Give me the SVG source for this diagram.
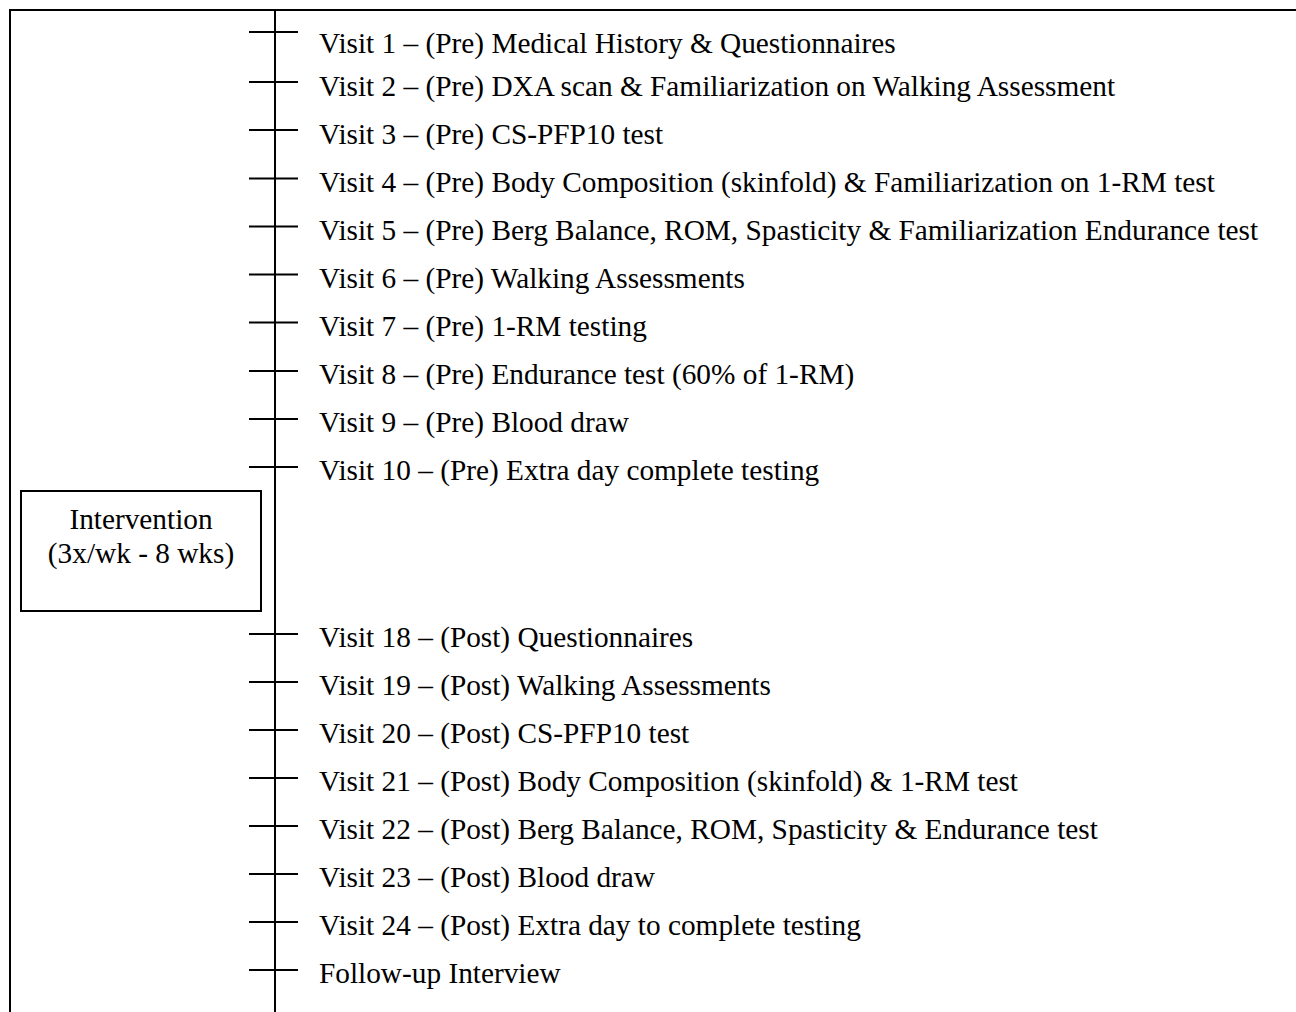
<svg xmlns="http://www.w3.org/2000/svg" width="1296" height="1012" viewBox="0 0 1296 1012">
<style>
.ln{stroke:#000;stroke-width:2;fill:none}
.t{font-family:"Liberation Serif","Times New Roman",serif;font-size:29.3px;fill:#000}
.c{text-anchor:middle}
</style>
<rect x="0" y="0" width="1296" height="1012" fill="#fff"/>
<g id="frame">
<path class="ln" d="M10,1012 V10 H1296"/>
</g>
<g id="connectors">
<path class="ln" d="M275,10 V1012"/>
<path class="ln" d="M249,32 H298 M249,82 H298 M249,130 H298 M249,178.5 H298 M249,226.5 H298 M249,274.5 H298 M249,322.5 H298 M249,371 H298 M249,419 H298 M249,467 H298"/>
<path class="ln" d="M249,634 H298 M249,682 H298 M249,730 H298 M249,778 H298 M249,826 H298 M249,874 H298 M249,922 H298 M249,970 H298"/>
</g>
<g id="intervention">
<rect class="ln" x="21" y="491" width="240" height="120"/>
<text class="t c" x="141" y="529">Intervention</text>
<text class="t c" x="141" y="563">(3x/wk - 8 wks)</text>
</g>
<g id="v1"><text class="t" x="319" y="53">Visit 1 – (Pre) Medical History &amp; Questionnaires</text></g>
<g id="v2"><text class="t" x="319" y="96">Visit 2 – (Pre) DXA scan &amp; Familiarization on Walking Assessment</text></g>
<g id="v3"><text class="t" x="319" y="144">Visit 3 – (Pre) CS-PFP10 test</text></g>
<g id="v4"><text class="t" x="319" y="192">Visit 4 – (Pre) Body Composition (skinfold) &amp; Familiarization on 1-RM test</text></g>
<g id="v5"><text class="t" x="319" y="240">Visit 5 – (Pre) Berg Balance, ROM, Spasticity &amp; Familiarization Endurance test</text></g>
<g id="v6"><text class="t" x="319" y="288">Visit 6 – (Pre) Walking Assessments</text></g>
<g id="v7"><text class="t" x="319" y="336">Visit 7 – (Pre) 1-RM testing</text></g>
<g id="v8"><text class="t" x="319" y="384">Visit 8 – (Pre) Endurance test (60% of 1-RM)</text></g>
<g id="v9"><text class="t" x="319" y="432">Visit 9 – (Pre) Blood draw</text></g>
<g id="v10"><text class="t" x="319" y="480">Visit 10 – (Pre) Extra day complete testing</text></g>
<g id="v18"><text class="t" x="319" y="647">Visit 18 – (Post) Questionnaires</text></g>
<g id="v19"><text class="t" x="319" y="695">Visit 19 – (Post) Walking Assessments</text></g>
<g id="v20"><text class="t" x="319" y="743">Visit 20 – (Post) CS-PFP10 test</text></g>
<g id="v21"><text class="t" x="319" y="791">Visit 21 – (Post) Body Composition (skinfold) &amp; 1-RM test</text></g>
<g id="v22"><text class="t" x="319" y="839">Visit 22 – (Post) Berg Balance, ROM, Spasticity &amp; Endurance test</text></g>
<g id="v23"><text class="t" x="319" y="887">Visit 23 – (Post) Blood draw</text></g>
<g id="v24"><text class="t" x="319" y="935">Visit 24 – (Post) Extra day to complete testing</text></g>
<g id="fu"><text class="t" x="319" y="983">Follow-up Interview</text></g>
</svg>
